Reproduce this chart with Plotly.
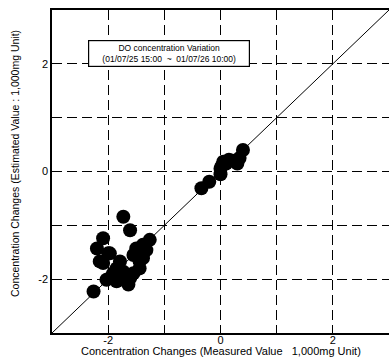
import plotly.graph_objects as go

# Measured vs estimated concentration changes (1,000 mg unit)
measured = [-0.34, -0.20, 0.00, 0.02, 0.05, 0.10, 0.15, 0.22, 0.30, 0.34, 0.40, 0.00,
            -1.73, -1.61, -2.09, -2.20, -2.00, -2.09, -1.26, -1.38, -1.50, -1.55,
            -1.38, -1.44, -1.55, -1.85, -1.79, -1.97, -1.85, -1.67, -1.61, -1.73,
            -1.91, -2.26, -1.44, -1.32, -2.15, -2.03, -1.64, -1.97]
estimated = [-0.31, -0.19, -0.05, 0.10, 0.18, 0.15, 0.22, 0.20, 0.15, 0.25, 0.40, 0.05,
             -0.84, -1.09, -1.24, -1.43, -1.52, -1.70, -1.27, -1.36, -1.43, -1.55,
             -1.61, -1.80, -1.89, -1.80, -1.67, -1.98, -2.04, -2.04, -1.98, -1.86,
             -1.89, -2.23, -1.67, -1.46, -1.67, -2.01, -2.10, -1.52]

diag = [-3, 3]
tick_vals = [-2, -1, 0, 1, 2]
tick_text = ['-2', '', '0', '', '2']

x_title = "Concentration Changes (Measured Value   1,000mg Unit)"
y_title = "Concentration Changes (Estimated Value : 1,000mg Unit)"
box_text = "DO concentration Variation<br>(01/07/25 15:00  ~  01/07/26 10:00)"

font = "Liberation Sans, Arial, sans-serif"

fig = go.Figure()
fig.add_trace(go.Scatter(x=diag, y=diag, mode="lines",
                         line=dict(color="black", width=1), showlegend=False))
fig.add_trace(go.Scatter(x=measured, y=estimated, mode="markers",
                         marker=dict(color="black", size=14), showlegend=False))

axis_common = dict(range=[-3, 3], tickvals=tick_vals, ticktext=tick_text,
                   showgrid=True, gridcolor="black", griddash="10px,5px", gridwidth=1,
                   showline=True, linecolor="black", linewidth=1.5, mirror=True,
                   zeroline=False, ticks="", automargin=False,
                   tickfont=dict(size=11, color="black", family=font))

fig.update_xaxes(**axis_common, ticklabelstandoff=-4)
fig.update_yaxes(**axis_common)

fig.add_annotation(x=0.501, y=-0.0557, xref="paper", yref="paper",
                   xanchor="center", yanchor="middle", text=x_title, showarrow=False,
                   font=dict(size=11, color="black", family=font))
fig.add_annotation(x=-0.110, y=0.526, xref="paper", yref="paper",
                   xanchor="center", yanchor="middle", text=y_title, showarrow=False,
                   textangle=-90, font=dict(size=10.5, color="black", family=font))

fig.add_annotation(x=0.107, y=0.907, xref="paper", yref="paper",
                   xanchor="left", yanchor="top",
                   text=box_text,
                   showarrow=False, font=dict(size=8.5, color="black", family=font),
                   bgcolor="white", bordercolor="black", borderwidth=1.2, borderpad=2,
                   width=156)

fig.update_layout(width=389, height=364, margin=dict(l=52, r=0, t=10, b=31),
                  plot_bgcolor="white", paper_bgcolor="white",
                  font=dict(family=font, color="black"))

fig.write_html("out.html", config={"displayModeBar": False},
               post_script="document.body.style.margin='0';")
